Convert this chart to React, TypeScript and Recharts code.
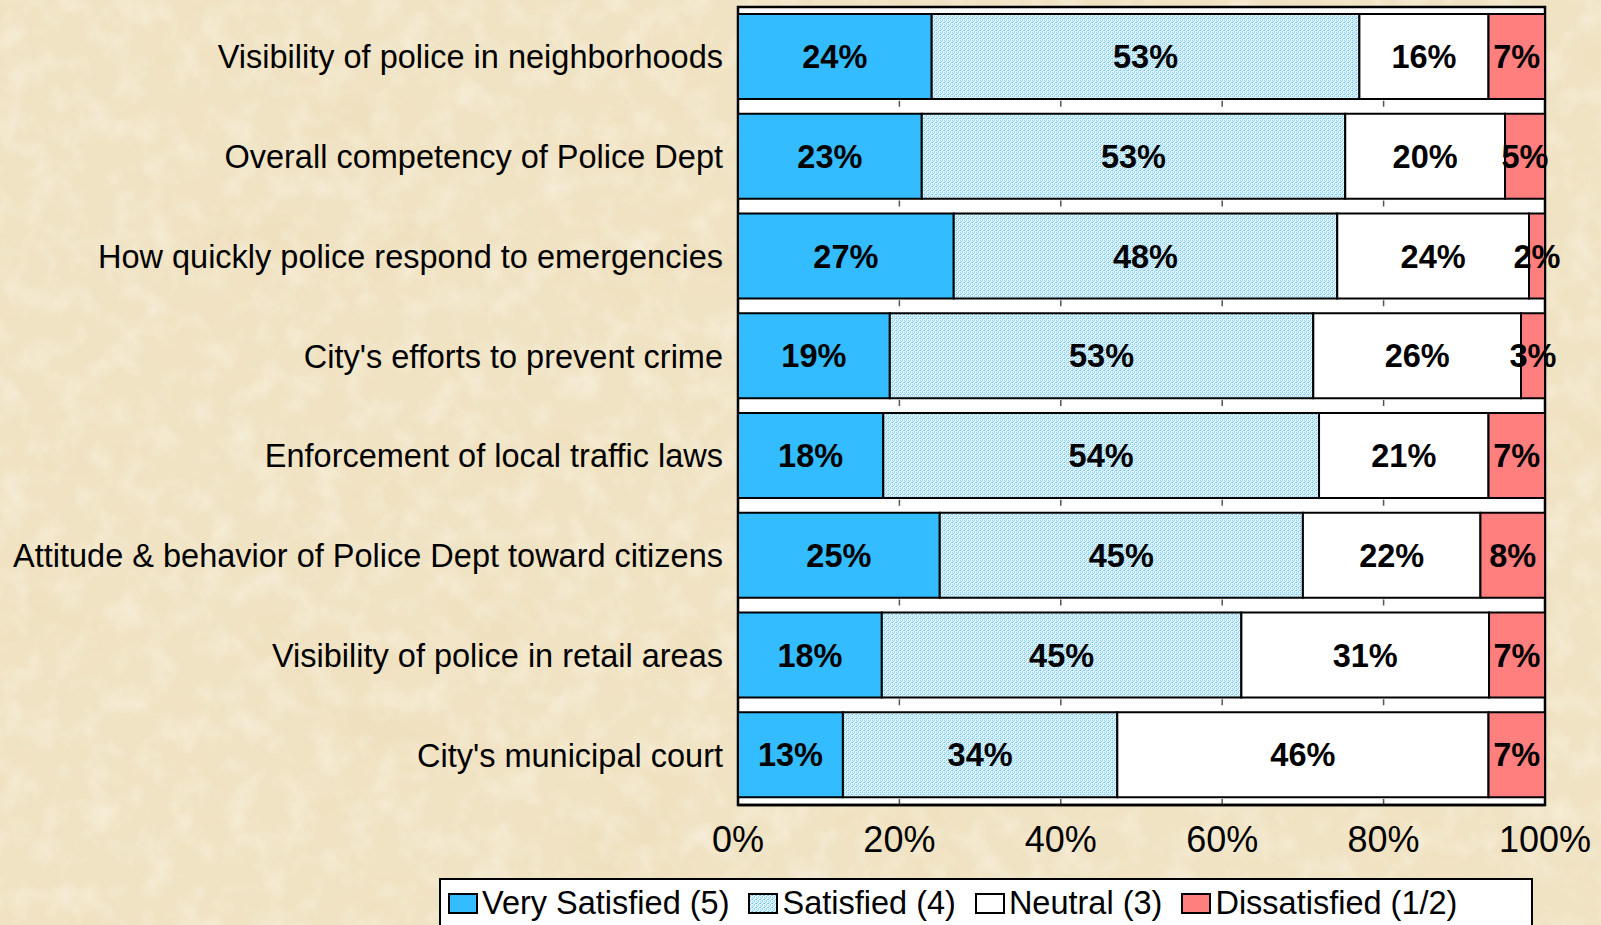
import React from "react";
import {
  BarChart,
  Bar,
  XAxis,
  YAxis,
  CartesianGrid,
  LabelList,
  ReferenceArea,
} from "recharts";

const categories = [
  "Visibility of police in neighborhoods",
  "Overall competency of Police Dept",
  "How quickly police respond to emergencies",
  "City's efforts to prevent crime",
  "Enforcement of local traffic laws",
  "Attitude & behavior of Police Dept toward citizens",
  "Visibility of police in retail areas",
  "City's municipal court",
];
const verySatisfied = [24, 23, 27, 19, 18, 25, 18, 13];
const satisfied = [53, 53, 48, 53, 54, 45, 45, 34];
const neutral = [16, 20, 24, 26, 21, 22, 31, 46];
const dissatisfied = [7, 5, 2, 3, 7, 8, 7, 7];
const xTicks = [0, 0.2, 0.4, 0.6, 0.8, 1];
const seriesNames = ["Very Satisfied (5)", "Satisfied (4)", "Neutral (3)", "Dissatisfied (1/2)"];

const data = categories.map((name, i) => ({
  name,
  vs: verySatisfied[i],
  s: satisfied[i],
  n: neutral[i],
  d: dissatisfied[i],
}));

const FONT = '"Liberation Sans", Arial, sans-serif';
const COLORS = ["#33BCFF", "url(#satPattern)", "#FFFFFF", "#FF7F7F"];
const KEYS = ["vs", "s", "n", "d"];

const pct = (v: any) => `${v}%`;

function Background() {
  return (
    <svg width={1601} height={925} style={{ position: "absolute", left: 0, top: 0 }}>
      <defs>
        <filter id="parch" x="0" y="0" width="100%" height="100%">
          <feTurbulence type="fractalNoise" baseFrequency="0.007 0.01" numOctaves={4} seed={11} result="noise" />
          <feColorMatrix
            in="noise"
            type="matrix"
            values="0 0 0 0 0.86  0 0 0 0 0.74  0 0 0 0 0.5  0 0 0 1.3 -0.55"
          />
        </filter>
        <filter id="parch2" x="0" y="0" width="100%" height="100%">
          <feTurbulence type="fractalNoise" baseFrequency="0.035" numOctaves={3} seed={3} result="noise" />
          <feColorMatrix
            in="noise"
            type="matrix"
            values="0 0 0 0 0.99  0 0 0 0 0.96  0 0 0 0 0.88  0 0 0 0.9 -0.4"
          />
        </filter>
      </defs>
      <rect x={0} y={0} width={1601} height={925} fill="#F0E3C4" />
      <rect x={0} y={0} width={1601} height={925} filter="url(#parch)" />
      <rect x={0} y={0} width={1601} height={925} filter="url(#parch2)" />
    </svg>
  );
}

function LegendBox() {
  const swatch = (fill: string) => (
    <svg width={30} height={21} style={{ display: "block" }}>
      <rect x={1} y={1} width={28} height={19} fill={fill} stroke="#000" strokeWidth={2} />
    </svg>
  );
  return (
    <div
      style={{
        position: "absolute",
        left: 439,
        top: 878,
        width: 1094,
        height: 60,
        boxSizing: "border-box",
        border: "2px solid #000",
        background: "#fff",
        display: "flex",
        alignItems: "flex-start",
        paddingLeft: 7,
        fontFamily: FONT,
        fontSize: 32.5,
        color: "#000",
      }}
    >
      {seriesNames.map((nm, i) => (
        <div key={nm} style={{ display: "flex", alignItems: "center", height: 47, marginRight: 19 }}>
          {swatch(i === 1 ? "url(#satPattern2)" : COLORS[i])}
          <span style={{ marginLeft: 4, whiteSpace: "nowrap" }}>{nm}</span>
        </div>
      ))}
    </div>
  );
}

export default function App() {
  return (
    <div
      style={{
        position: "absolute",
        left: 0,
        top: 0,
        width: 1601,
        height: 925,
        overflow: "hidden",
        fontFamily: FONT,
      }}
    >
      <Background />
      <svg width={0} height={0} style={{ position: "absolute" }}>
        <defs>
          <pattern id="satPattern2" width={4} height={4} patternUnits="userSpaceOnUse">
            <rect width={4} height={4} fill="#E4F5FD" />
            <rect x={0} y={0} width={1} height={1} fill="#8FD3F6" />
            <rect x={2} y={0} width={1} height={1} fill="#8FD3F6" />
            <rect x={1} y={1} width={1} height={1} fill="#8FD3F6" />
            <rect x={3} y={2} width={1} height={1} fill="#8FD3F6" />
            <rect x={0} y={2} width={1} height={1} fill="#5DBDEE" />
            <rect x={2} y={3} width={1} height={1} fill="#8FD3F6" />
          </pattern>
        </defs>
      </svg>
      <div style={{ position: "absolute", left: 0, top: 0 }}>
        <BarChart
          width={1601}
          height={925}
          data={data}
          layout="vertical"
          stackOffset="expand"
          margin={{ top: 7, right: 56, bottom: 60, left: 0 }}
        >
          <defs>
            <pattern id="satPattern" width={4} height={4} patternUnits="userSpaceOnUse">
              <rect width={4} height={4} fill="#E4F5FD" />
              <rect x={0} y={0} width={1} height={1} fill="#8FD3F6" />
              <rect x={2} y={0} width={1} height={1} fill="#8FD3F6" />
              <rect x={1} y={1} width={1} height={1} fill="#8FD3F6" />
              <rect x={3} y={2} width={1} height={1} fill="#8FD3F6" />
              <rect x={0} y={2} width={1} height={1} fill="#5DBDEE" />
              <rect x={2} y={3} width={1} height={1} fill="#8FD3F6" />
            </pattern>
          </defs>
          <CartesianGrid
            horizontal={false}
            vertical={true}
            fill="#FFFFFF"
            fillOpacity={1}
            stroke="#555"
            strokeWidth={1.5}
            strokeDasharray="6 93.75"
            strokeDashoffset={6}
          />
          <XAxis
            type="number"
            domain={[0, 1]}
            ticks={xTicks}
            tickFormatter={(v: number) => `${Math.round(v * 100)}%`}
            tickLine={false}
            axisLine={{ stroke: "#000", strokeWidth: 2.5 }}
            tick={{ fontSize: 36, fill: "#000", fontFamily: FONT }}
            tickMargin={15}
            height={60}
            interval={0}
          />
          <YAxis
            type="category"
            dataKey="name"
            width={738}
            tickLine={false}
            axisLine={false}
            tickMargin={9}
            interval={0}
            tick={{ fontSize: 32.5, fill: "#000", fontFamily: FONT }}
          />
          {KEYS.map((k, i) => (
            <Bar
              key={k}
              dataKey={k}
              stackId="a"
              fill={COLORS[i]}
              stroke="#000"
              strokeWidth={2}
              barSize={85}
              isAnimationActive={false}
              name={seriesNames[i]}
            >
              <LabelList
                dataKey={k}
                position="center"
                formatter={pct}
                fill="#000"
                fontSize={32.5}
                fontWeight="bold"
                fontFamily={FONT}
              />
            </Bar>
          ))}
          <ReferenceArea x1={0} x2={1} fill="none" fillOpacity={0} stroke="#000" strokeWidth={2.5} ifOverflow="visible" />
        </BarChart>
      </div>
      <LegendBox />
    </div>
  );
}
